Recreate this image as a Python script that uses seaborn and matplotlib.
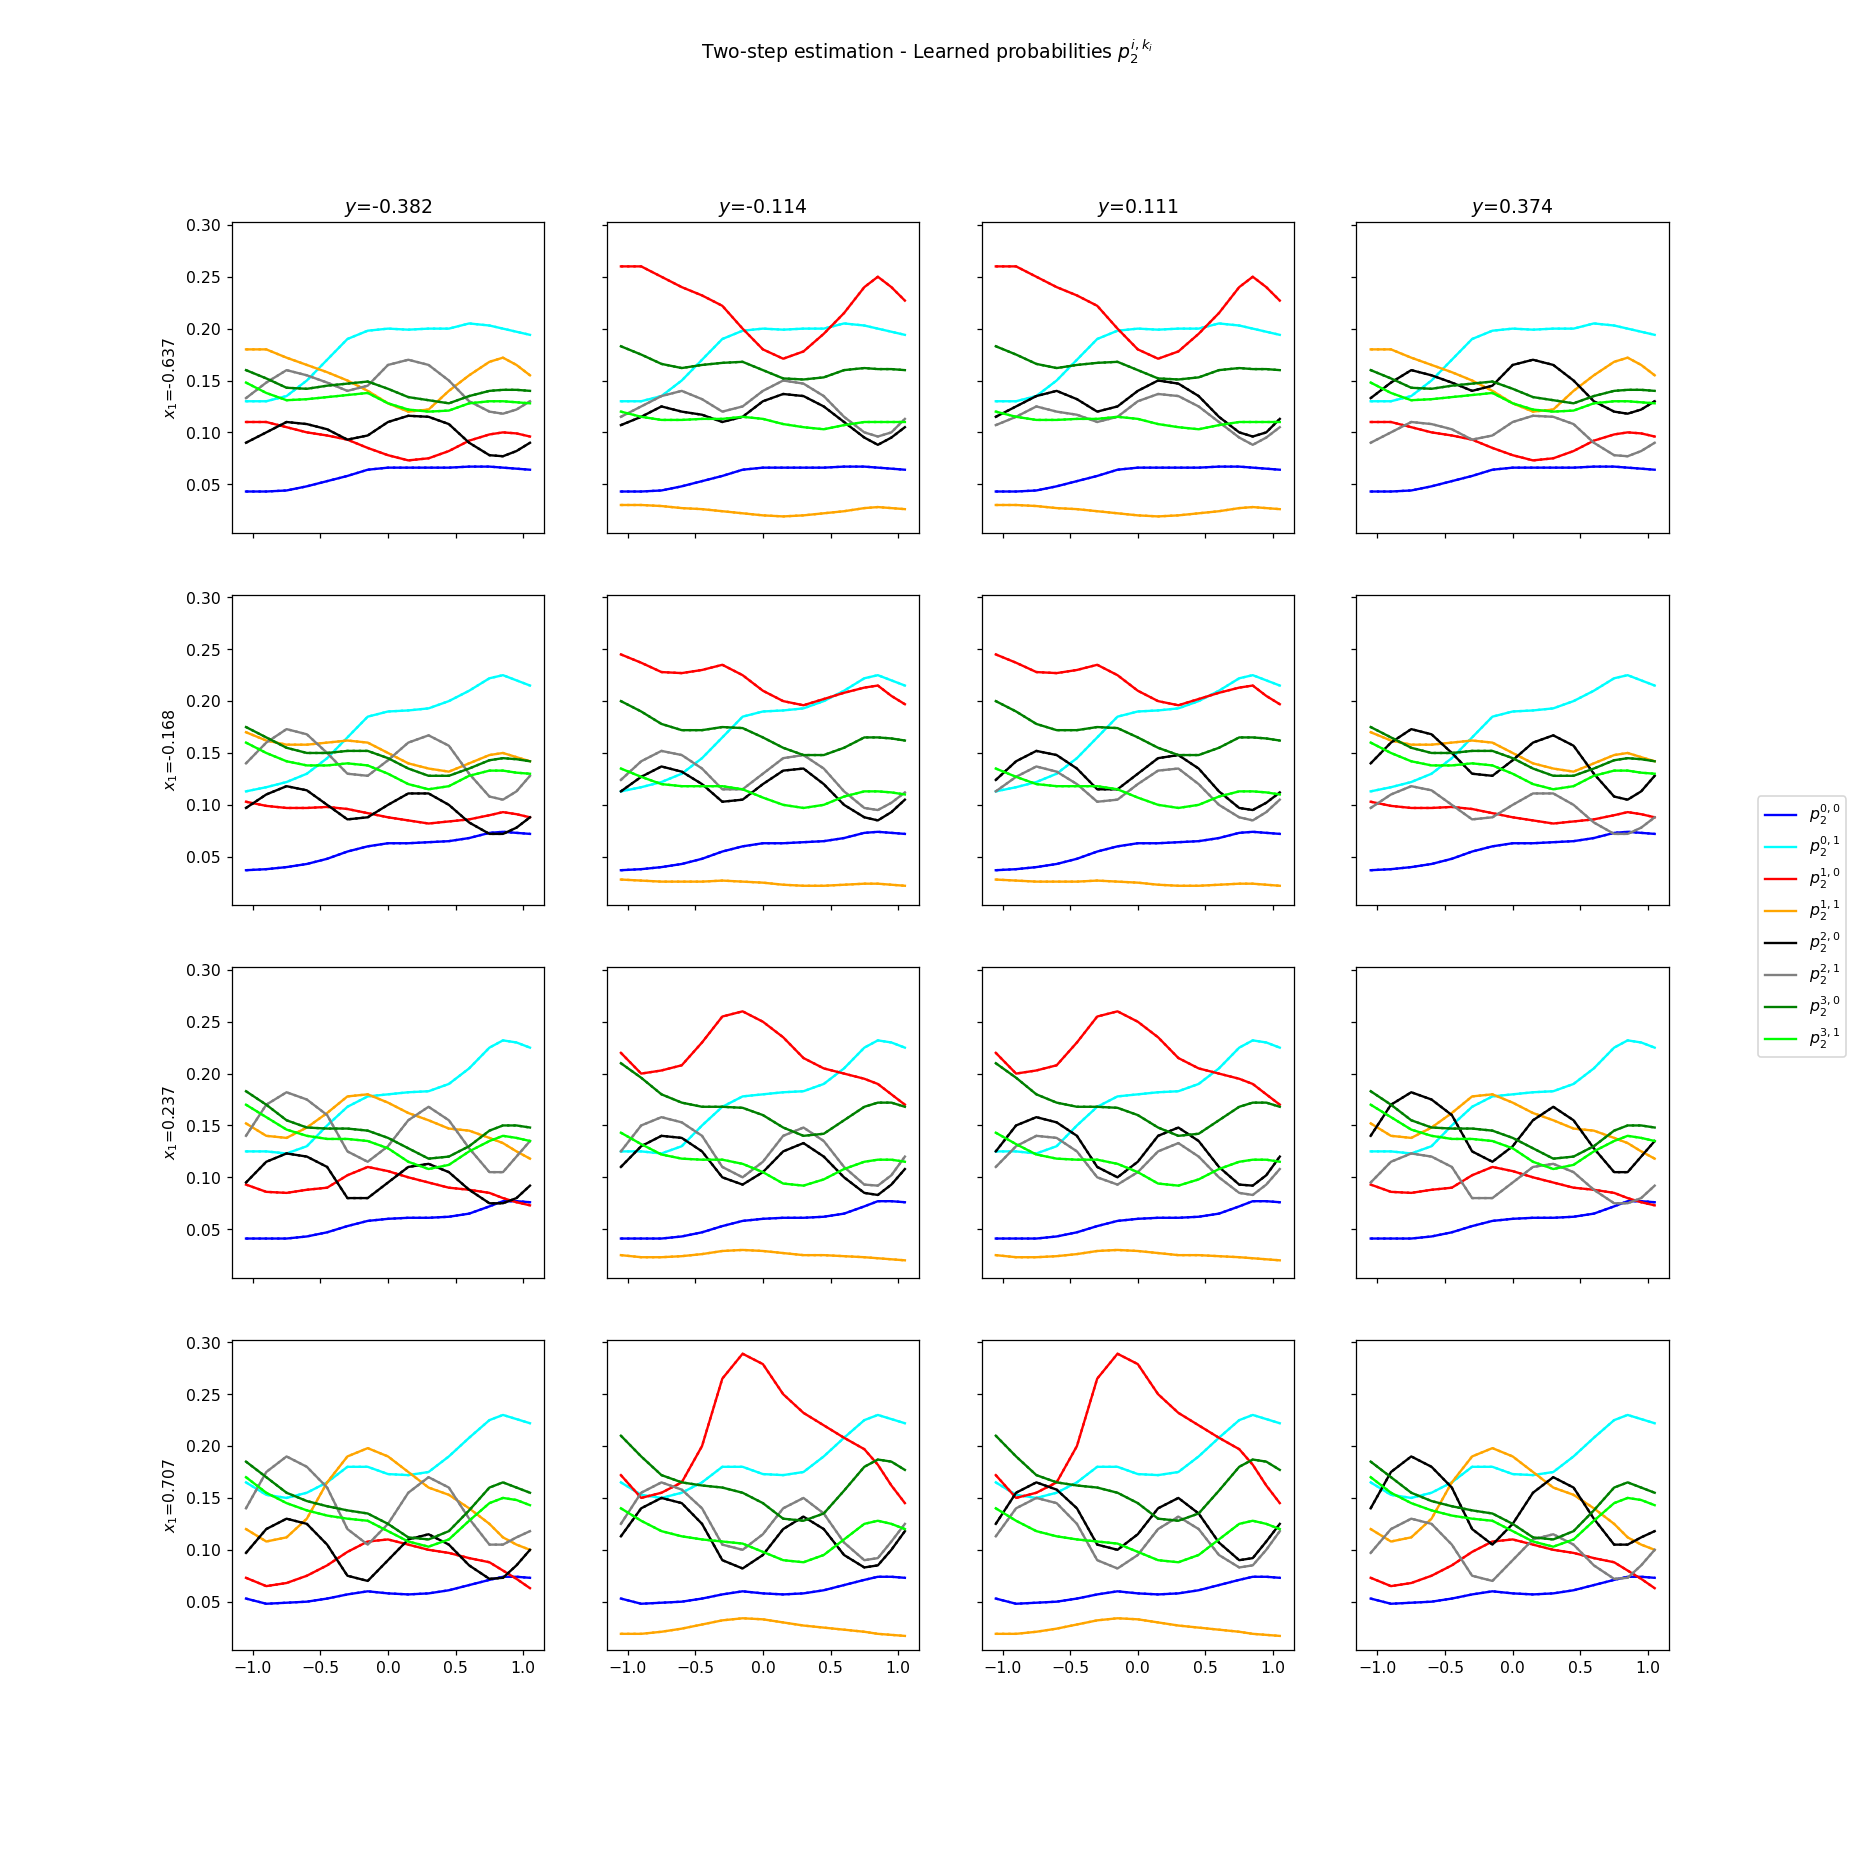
import matplotlib
matplotlib.use("Agg")
import matplotlib.pyplot as plt
import seaborn as sns

# ---- data ----
x_vals = [-1.05, -0.9, -0.75, -0.6, -0.45, -0.3, -0.15, 0.0, 0.15, 0.3, 0.45, 0.6, 0.75, 0.85, 0.95, 1.05]
y_titles = ["-0.382", "-0.114", "0.111", "0.374"]
x1_titles = ["-0.637", "-0.168", "0.237", "0.707"]
series_labels = [r"$p_2^{0,0}$", r"$p_2^{0,1}$", r"$p_2^{1,0}$", r"$p_2^{1,1}$",
                 r"$p_2^{2,0}$", r"$p_2^{2,1}$", r"$p_2^{3,0}$", r"$p_2^{3,1}$"]
series_colors = ["blue", "cyan", "red", "orange", "black", "gray", "green", "lime"]

# row 1 : x1 = -0.637
blue1 = [0.043, 0.043, 0.044, 0.048, 0.053, 0.058, 0.064, 0.066, 0.066, 0.066, 0.066, 0.067, 0.067, 0.066, 0.065, 0.064]
cyan1 = [0.130, 0.130, 0.135, 0.150, 0.170, 0.190, 0.198, 0.200, 0.199, 0.200, 0.200, 0.205, 0.203, 0.200, 0.197, 0.194]
red_lo1 = [0.110, 0.110, 0.105, 0.100, 0.097, 0.093, 0.085, 0.078, 0.073, 0.075, 0.082, 0.092, 0.098, 0.100, 0.099, 0.096]
red_hi1 = [0.260, 0.260, 0.250, 0.240, 0.232, 0.222, 0.200, 0.180, 0.171, 0.178, 0.195, 0.215, 0.240, 0.250, 0.240, 0.227]
org_hi1 = [0.180, 0.180, 0.172, 0.165, 0.158, 0.150, 0.140, 0.128, 0.120, 0.122, 0.140, 0.155, 0.168, 0.172, 0.165, 0.155]
org_lo1 = [0.030, 0.030, 0.029, 0.027, 0.026, 0.024, 0.022, 0.020, 0.019, 0.020, 0.022, 0.024, 0.027, 0.028, 0.027, 0.026]
wav_a1 = [0.090, 0.100, 0.110, 0.108, 0.103, 0.093, 0.097, 0.110, 0.116, 0.115, 0.108, 0.090, 0.078, 0.077, 0.082, 0.090]
wav_b1 = [0.133, 0.148, 0.160, 0.155, 0.148, 0.140, 0.145, 0.165, 0.170, 0.165, 0.150, 0.130, 0.120, 0.118, 0.122, 0.130]
wav_c1 = [0.107, 0.115, 0.125, 0.120, 0.117, 0.110, 0.115, 0.130, 0.137, 0.135, 0.125, 0.110, 0.095, 0.088, 0.095, 0.105]
wav_d1 = [0.115, 0.125, 0.135, 0.140, 0.132, 0.120, 0.125, 0.140, 0.150, 0.147, 0.135, 0.115, 0.100, 0.096, 0.100, 0.113]
grn_a1 = [0.160, 0.152, 0.143, 0.142, 0.145, 0.147, 0.149, 0.142, 0.134, 0.131, 0.128, 0.135, 0.140, 0.141, 0.141, 0.140]
lim_a1 = [0.148, 0.138, 0.131, 0.132, 0.134, 0.136, 0.138, 0.128, 0.122, 0.120, 0.121, 0.128, 0.130, 0.130, 0.129, 0.128]
grn_b1 = [0.183, 0.175, 0.166, 0.162, 0.165, 0.167, 0.168, 0.160, 0.152, 0.151, 0.153, 0.160, 0.162, 0.161, 0.161, 0.160]
lim_b1 = [0.120, 0.115, 0.112, 0.112, 0.113, 0.113, 0.115, 0.113, 0.108, 0.105, 0.103, 0.107, 0.110, 0.110, 0.110, 0.110]

# row 2 : x1 = -0.168
blue2 = [0.037, 0.038, 0.040, 0.043, 0.048, 0.055, 0.060, 0.063, 0.063, 0.064, 0.065, 0.068, 0.073, 0.074, 0.073, 0.072]
cyan2 = [0.113, 0.117, 0.122, 0.130, 0.145, 0.165, 0.185, 0.190, 0.191, 0.193, 0.200, 0.210, 0.222, 0.225, 0.220, 0.215]
red_lo2 = [0.103, 0.099, 0.097, 0.097, 0.098, 0.096, 0.092, 0.088, 0.085, 0.082, 0.084, 0.086, 0.090, 0.093, 0.091, 0.088]
red_hi2 = [0.245, 0.237, 0.228, 0.227, 0.230, 0.235, 0.225, 0.210, 0.200, 0.196, 0.202, 0.208, 0.213, 0.215, 0.205, 0.197]
org_hi2 = [0.170, 0.162, 0.158, 0.158, 0.160, 0.162, 0.160, 0.150, 0.140, 0.135, 0.132, 0.140, 0.148, 0.150, 0.146, 0.142]
org_lo2 = [0.028, 0.027, 0.026, 0.026, 0.026, 0.027, 0.026, 0.025, 0.023, 0.022, 0.022, 0.023, 0.024, 0.024, 0.023, 0.022]
wav_a2 = [0.097, 0.110, 0.118, 0.114, 0.100, 0.086, 0.088, 0.100, 0.111, 0.111, 0.100, 0.083, 0.072, 0.072, 0.078, 0.088]
wav_b2 = [0.140, 0.160, 0.173, 0.168, 0.150, 0.130, 0.128, 0.143, 0.160, 0.167, 0.157, 0.130, 0.108, 0.105, 0.113, 0.128]
wav_c2 = [0.113, 0.127, 0.137, 0.132, 0.120, 0.103, 0.105, 0.120, 0.133, 0.135, 0.120, 0.100, 0.088, 0.085, 0.093, 0.105]
wav_d2 = [0.124, 0.142, 0.152, 0.148, 0.135, 0.115, 0.115, 0.130, 0.145, 0.148, 0.135, 0.113, 0.097, 0.095, 0.102, 0.112]
grn_a2 = [0.175, 0.165, 0.155, 0.150, 0.150, 0.152, 0.152, 0.145, 0.135, 0.128, 0.128, 0.135, 0.143, 0.145, 0.144, 0.142]
lim_a2 = [0.160, 0.150, 0.142, 0.138, 0.138, 0.140, 0.138, 0.130, 0.120, 0.115, 0.118, 0.128, 0.133, 0.133, 0.131, 0.130]
grn_b2 = [0.200, 0.190, 0.178, 0.172, 0.172, 0.175, 0.174, 0.165, 0.155, 0.148, 0.148, 0.155, 0.165, 0.165, 0.164, 0.162]
lim_b2 = [0.135, 0.127, 0.120, 0.118, 0.118, 0.118, 0.115, 0.107, 0.100, 0.097, 0.100, 0.108, 0.113, 0.113, 0.112, 0.110]

# row 3 : x1 = 0.237
blue3 = [0.041, 0.041, 0.041, 0.043, 0.047, 0.053, 0.058, 0.060, 0.061, 0.061, 0.062, 0.065, 0.072, 0.077, 0.077, 0.076]
cyan3 = [0.125, 0.125, 0.123, 0.130, 0.150, 0.168, 0.178, 0.180, 0.182, 0.183, 0.190, 0.205, 0.225, 0.232, 0.230, 0.225]
red_lo3 = [0.093, 0.086, 0.085, 0.088, 0.090, 0.102, 0.110, 0.106, 0.100, 0.095, 0.090, 0.088, 0.085, 0.080, 0.076, 0.073]
red_hi3 = [0.220, 0.200, 0.203, 0.208, 0.230, 0.255, 0.260, 0.250, 0.235, 0.215, 0.205, 0.200, 0.195, 0.190, 0.180, 0.170]
org_hi3 = [0.152, 0.140, 0.138, 0.148, 0.162, 0.178, 0.180, 0.172, 0.162, 0.155, 0.147, 0.145, 0.138, 0.133, 0.125, 0.118]
org_lo3 = [0.025, 0.023, 0.023, 0.024, 0.026, 0.029, 0.030, 0.029, 0.027, 0.025, 0.025, 0.024, 0.023, 0.022, 0.021, 0.020]
wav_a3 = [0.095, 0.115, 0.123, 0.120, 0.110, 0.080, 0.080, 0.095, 0.110, 0.113, 0.105, 0.088, 0.075, 0.075, 0.080, 0.092]
wav_b3 = [0.140, 0.170, 0.182, 0.175, 0.160, 0.125, 0.115, 0.130, 0.155, 0.168, 0.155, 0.128, 0.105, 0.105, 0.120, 0.135]
wav_c3 = [0.110, 0.130, 0.140, 0.138, 0.125, 0.100, 0.093, 0.105, 0.125, 0.133, 0.120, 0.100, 0.085, 0.083, 0.093, 0.108]
wav_d3 = [0.125, 0.150, 0.158, 0.153, 0.140, 0.110, 0.100, 0.115, 0.140, 0.148, 0.135, 0.110, 0.093, 0.092, 0.102, 0.120]
grn_a3 = [0.183, 0.170, 0.155, 0.148, 0.147, 0.147, 0.145, 0.138, 0.128, 0.118, 0.120, 0.130, 0.145, 0.150, 0.150, 0.148]
lim_a3 = [0.170, 0.158, 0.146, 0.140, 0.137, 0.137, 0.135, 0.128, 0.115, 0.108, 0.112, 0.125, 0.135, 0.140, 0.138, 0.135]
grn_b3 = [0.210, 0.196, 0.180, 0.172, 0.168, 0.168, 0.167, 0.160, 0.148, 0.140, 0.142, 0.155, 0.168, 0.172, 0.172, 0.168]
lim_b3 = [0.143, 0.132, 0.122, 0.118, 0.117, 0.117, 0.113, 0.105, 0.094, 0.092, 0.098, 0.108, 0.115, 0.117, 0.117, 0.115]

# row 4 : x1 = 0.707
blue4 = [0.053, 0.048, 0.049, 0.050, 0.053, 0.057, 0.060, 0.058, 0.057, 0.058, 0.061, 0.066, 0.071, 0.074, 0.074, 0.073]
cyan4 = [0.165, 0.153, 0.150, 0.155, 0.165, 0.180, 0.180, 0.173, 0.172, 0.175, 0.190, 0.208, 0.225, 0.230, 0.226, 0.222]
red_lo4 = [0.073, 0.065, 0.068, 0.075, 0.085, 0.098, 0.108, 0.110, 0.105, 0.100, 0.097, 0.092, 0.088, 0.080, 0.072, 0.063]
red_hi4 = [0.172, 0.150, 0.155, 0.165, 0.200, 0.265, 0.289, 0.279, 0.250, 0.232, 0.220, 0.208, 0.197, 0.182, 0.162, 0.145]
org_hi4 = [0.120, 0.108, 0.112, 0.130, 0.165, 0.190, 0.198, 0.190, 0.175, 0.160, 0.153, 0.140, 0.125, 0.112, 0.105, 0.100]
org_lo4 = [0.019, 0.019, 0.021, 0.024, 0.028, 0.032, 0.034, 0.033, 0.030, 0.027, 0.025, 0.023, 0.021, 0.019, 0.018, 0.017]
wav_a4 = [0.097, 0.120, 0.130, 0.125, 0.105, 0.075, 0.070, 0.090, 0.110, 0.115, 0.105, 0.085, 0.072, 0.073, 0.085, 0.100]
wav_b4 = [0.140, 0.175, 0.190, 0.180, 0.160, 0.120, 0.105, 0.125, 0.155, 0.170, 0.160, 0.130, 0.105, 0.105, 0.112, 0.118]
wav_c4 = [0.113, 0.140, 0.150, 0.145, 0.125, 0.090, 0.082, 0.095, 0.120, 0.132, 0.120, 0.095, 0.083, 0.085, 0.100, 0.118]
wav_d4 = [0.125, 0.155, 0.165, 0.158, 0.140, 0.105, 0.100, 0.115, 0.140, 0.150, 0.135, 0.107, 0.090, 0.092, 0.108, 0.125]
grn_a4 = [0.185, 0.170, 0.155, 0.147, 0.142, 0.138, 0.135, 0.125, 0.112, 0.110, 0.118, 0.138, 0.160, 0.165, 0.160, 0.155]
lim_a4 = [0.170, 0.155, 0.145, 0.138, 0.133, 0.130, 0.128, 0.118, 0.108, 0.103, 0.110, 0.128, 0.145, 0.150, 0.148, 0.143]
grn_b4 = [0.210, 0.190, 0.172, 0.165, 0.162, 0.160, 0.155, 0.145, 0.130, 0.128, 0.135, 0.157, 0.180, 0.187, 0.185, 0.177]
lim_b4 = [0.140, 0.128, 0.118, 0.113, 0.110, 0.108, 0.106, 0.098, 0.090, 0.088, 0.095, 0.110, 0.125, 0.128, 0.125, 0.120]

rows = [
    dict(blue=blue1, cyan=cyan1, red_lo=red_lo1, red_hi=red_hi1, org_hi=org_hi1, org_lo=org_lo1,
         a=wav_a1, b=wav_b1, c=wav_c1, d=wav_d1, grn_a=grn_a1, lim_a=lim_a1, grn_b=grn_b1, lim_b=lim_b1),
    dict(blue=blue2, cyan=cyan2, red_lo=red_lo2, red_hi=red_hi2, org_hi=org_hi2, org_lo=org_lo2,
         a=wav_a2, b=wav_b2, c=wav_c2, d=wav_d2, grn_a=grn_a2, lim_a=lim_a2, grn_b=grn_b2, lim_b=lim_b2),
    dict(blue=blue3, cyan=cyan3, red_lo=red_lo3, red_hi=red_hi3, org_hi=org_hi3, org_lo=org_lo3,
         a=wav_a3, b=wav_b3, c=wav_c3, d=wav_d3, grn_a=grn_a3, lim_a=lim_a3, grn_b=grn_b3, lim_b=lim_b3),
    dict(blue=blue4, cyan=cyan4, red_lo=red_lo4, red_hi=red_hi4, org_hi=org_hi4, org_lo=org_lo4,
         a=wav_a4, b=wav_b4, c=wav_c4, d=wav_d4, grn_a=grn_a4, lim_a=lim_a4, grn_b=grn_b4, lim_b=lim_b4),
]

# which curve goes where, per column (order = legend order)
col_keys = [
    ["blue", "cyan", "red_lo", "org_hi", "a", "b", "grn_a", "lim_a"],
    ["blue", "cyan", "red_hi", "org_lo", "c", "d", "grn_b", "lim_b"],
    ["blue", "cyan", "red_hi", "org_lo", "d", "c", "grn_b", "lim_b"],
    ["blue", "cyan", "red_lo", "org_hi", "b", "a", "grn_a", "lim_a"],
]

fig, axes = plt.subplots(4, 4, figsize=(16.41, 16.41), dpi=113, sharex=True, sharey=True)

for r in range(4):
    for c in range(4):
        ax = axes[r, c]
        for k, key in enumerate(col_keys[c]):
            vals = rows[r][key]
            # dotted = target, solid = learned
            sns.lineplot(x=x_vals, y=vals, ax=ax, color=series_colors[k], linestyle=":",
                         linewidth=1.5, errorbar=None, legend=False)
            sns.lineplot(x=x_vals, y=vals, ax=ax, color=series_colors[k], linewidth=1.5,
                         errorbar=None, label=series_labels[k])
        if ax.get_legend() is not None:
            ax.get_legend().remove()
        ax.set_xlabel("")
        ax.set_ylabel("")
        if r == 0:
            ax.set_title(r"$y$=" + y_titles[c])
        if c == 0:
            ax.set_ylabel(r"$x_1$=" + x1_titles[r])

handles, labels = axes[0, 0].get_legend_handles_labels()
fig.legend(handles, labels, loc="center right")
fig.suptitle(r"Two-step estimation - Learned probabilities $p_2^{i,k_i}$")

fig.savefig("out.png", dpi=113)
